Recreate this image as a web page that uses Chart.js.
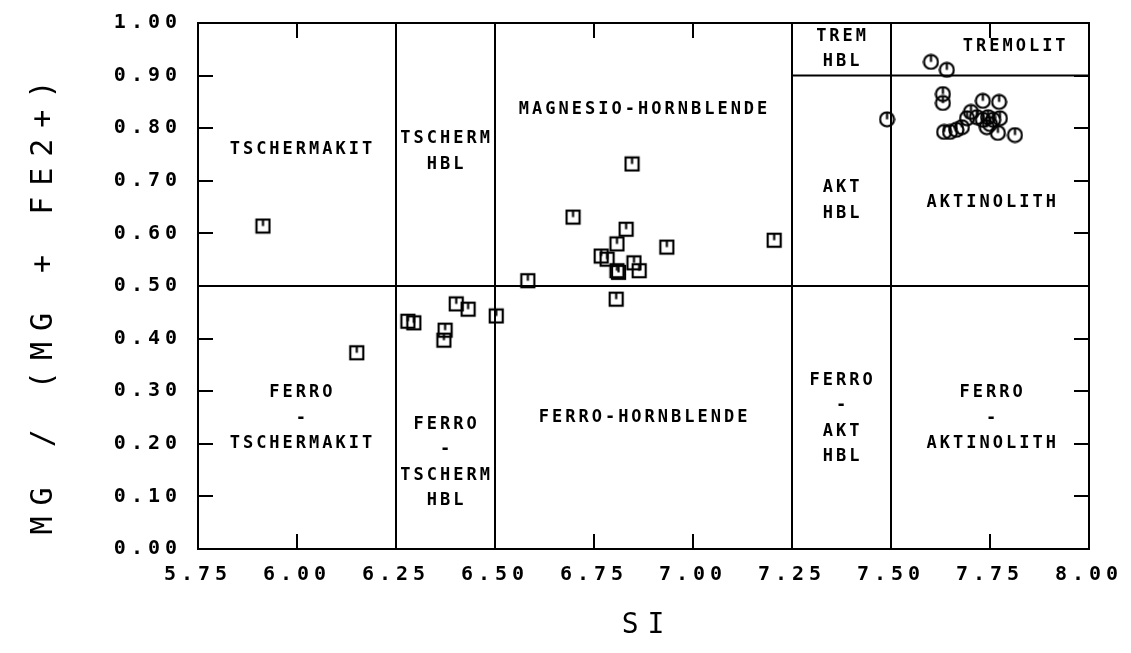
<!DOCTYPE html>
<html>
<head>
<meta charset="utf-8">
<script src="https://cdn.jsdelivr.net/npm/chart.js@4.4.1/dist/chart.umd.min.js"></script>
<style>
  html, body { margin: 0; padding: 0; background: #fff; }
  #wrap { width: 1131px; height: 653px; }
</style>
</head>
<body>
<div id="wrap"><canvas id="chart" width="1131" height="653"></canvas></div>
<script>
// Amphibole analyses (squares = hornblendes, circles = actinolite/tremolite)
const squareSi = [5.914, 6.151, 6.280, 6.295, 6.402, 6.432, 6.374, 6.371, 6.503, 6.583, 6.697, 6.846,
  6.831, 6.808, 6.934, 6.768, 6.783, 6.851, 6.808, 6.812, 6.864, 6.806, 7.205];
const squareMg = [0.614, 0.373, 0.433, 0.430, 0.466, 0.456, 0.416, 0.397, 0.443, 0.510, 0.631, 0.732,
  0.608, 0.580, 0.574, 0.557, 0.551, 0.544, 0.529, 0.526, 0.529, 0.475, 0.587];

const circleSi = [7.601, 7.641, 7.490, 7.631, 7.631, 7.732, 7.773, 7.634, 7.649, 7.679, 7.692,
  7.702, 7.717, 7.732, 7.745, 7.742, 7.758, 7.775, 7.770, 7.813, 7.665, 7.750];
const circleMg = [0.926, 0.911, 0.817, 0.865, 0.848, 0.852, 0.850, 0.793, 0.793, 0.802, 0.819,
  0.831, 0.821, 0.816, 0.821, 0.802, 0.816, 0.819, 0.791, 0.787, 0.797, 0.808];

// field boundaries
const verticalBounds = [6.25, 6.50, 7.25, 7.50];
const halfMg = 0.50;
const tremoliteMg = 0.90;
const tremoliteFrom = 7.25;

// axis ticks
const siTicks = [5.75, 6.00, 6.25, 6.50, 6.75, 7.00, 7.25, 7.50, 7.75, 8.00];
const mgTicks = [0.0, 0.1, 0.2, 0.3, 0.4, 0.5, 0.6, 0.7, 0.8, 0.9, 1.0];

// field names, anchored at (Si, Mg)
const fieldNames = [
  { si: 6.010, mg: 0.759, lines: ["TSCHERMAKIT"] },
  { si: 6.374, mg: 0.756, lines: ["TSCHERM", "HBL"] },
  { si: 6.874, mg: 0.835, lines: ["MAGNESIO-HORNBLENDE"] },
  { si: 7.374, mg: 0.950, lines: ["TREM", "HBL"] },
  { si: 7.811, mg: 0.956, lines: ["TREMOLIT"] },
  { si: 7.374, mg: 0.662, lines: ["AKT", "HBL"] },
  { si: 7.753, mg: 0.658, lines: ["AKTINOLITH"] },
  { si: 6.010, mg: 0.248, lines: ["FERRO", "-", "TSCHERMAKIT"] },
  { si: 6.374, mg: 0.164, lines: ["FERRO", "-", "TSCHERM", "HBL"] },
  { si: 6.874, mg: 0.249, lines: ["FERRO-HORNBLENDE"] },
  { si: 7.374, mg: 0.248, lines: ["FERRO", "-", "AKT", "HBL"] },
  { si: 7.753, mg: 0.248, lines: ["FERRO", "-", "AKTINOLITH"] },
];

const MONO = '"DejaVu Sans Mono", "Liberation Mono", monospace';

// plotter style markers: outline with a short stroke from the top to the middle
function makeMarker(kind) {
  const c = document.createElement("canvas");
  c.width = 17; c.height = 17;
  const g = c.getContext("2d");
  g.strokeStyle = "#000";
  g.lineWidth = 2.2;
  if (kind === "square") {
    g.strokeRect(2, 2, 13, 13);
  } else {
    g.beginPath();
    g.arc(8.5, 8.5, 7, 0, Math.PI * 2);
    g.stroke();
  }
  g.beginPath();
  g.moveTo(8.5, 2);
  g.lineTo(8.5, 8.5);
  g.stroke();
  return c;
}

function toPoints(xs, ys) {
  return xs.map((x, i) => ({ x, y: ys[i] }));
}

function boundaryDataset(points) {
  return {
    type: "scatter",
    data: points,
    showLine: true,
    borderColor: "#000",
    borderWidth: 2,
    pointRadius: 0,
    pointHoverRadius: 0,
    clip: false,
  };
}

const boundarySets = [
  ...verticalBounds.map(x => boundaryDataset([{ x, y: 0 }, { x, y: 1 }])),
  boundaryDataset([{ x: siTicks[0], y: halfMg }, { x: siTicks[siTicks.length - 1], y: halfMg }]),
  boundaryDataset([{ x: tremoliteFrom, y: tremoliteMg }, { x: siTicks[siTicks.length - 1], y: tremoliteMg }]),
];

// frame, inward ticks, field names and axis titles
const plotterDecor = {
  id: "plotterDecor",
  beforeDraw(chart) {
    chart.ctx.letterSpacing = "5px";
  },
  afterDraw(chart) {
    const { ctx, chartArea: a, scales: { x, y } } = chart;
    const tl = 15;
    ctx.save();
    ctx.strokeStyle = "#000";
    ctx.lineWidth = 2;
    ctx.strokeRect(a.left, a.top, a.right - a.left, a.bottom - a.top);

    ctx.beginPath();
    siTicks.forEach(v => {
      const px = Math.round(x.getPixelForValue(v));
      ctx.moveTo(px, a.bottom); ctx.lineTo(px, a.bottom - tl);
      ctx.moveTo(px, a.top); ctx.lineTo(px, a.top + tl);
    });
    mgTicks.forEach(v => {
      const py = Math.round(y.getPixelForValue(v));
      ctx.moveTo(a.left, py); ctx.lineTo(a.left + tl, py);
      ctx.moveTo(a.right, py); ctx.lineTo(a.right - tl, py);
    });
    ctx.stroke();

    // field names
    ctx.fillStyle = "#000";
    ctx.font = "bold 17px " + MONO;
    ctx.letterSpacing = "3px";
    ctx.textAlign = "center";
    ctx.textBaseline = "middle";
    const lh = 25.5;
    fieldNames.forEach(f => {
      const cx = x.getPixelForValue(f.si) + 1.5;
      const cy = y.getPixelForValue(f.mg);
      const top = cy - (f.lines.length - 1) * lh / 2;
      f.lines.forEach((t, i) => ctx.fillText(t, cx, top + i * lh));
    });

    // axis titles
    ctx.font = "28px " + MONO;
    ctx.letterSpacing = "9px";
    ctx.fillText("SI", (a.left + a.right) / 2 + 4, 626);

    ctx.translate(44, 307);
    ctx.rotate(-Math.PI / 2);
    ctx.font = "30px " + MONO;
    ctx.letterSpacing = "11px";
    ctx.fillText("MG / (MG + FE2+)", 5, 0);
    ctx.restore();
  }
};

new Chart(document.getElementById("chart"), {
  data: {
    datasets: [
      ...boundarySets,
      {
        type: "scatter",
        label: "Hornblende",
        data: toPoints(squareSi, squareMg),
        pointStyle: makeMarker("square"),
        clip: false,
      },
      {
        type: "scatter",
        label: "Aktinolith",
        data: toPoints(circleSi, circleMg),
        pointStyle: makeMarker("circle"),
        clip: false,
      },
    ]
  },
  options: {
    responsive: false,
    animation: false,
    events: [],
    layout: { padding: { left: 0, right: 42, top: 23, bottom: 0 } },
    plugins: { legend: { display: false }, tooltip: { enabled: false } },
    scales: {
      x: {
        type: "linear",
        min: siTicks[0],
        max: siTicks[siTicks.length - 1],
        afterBuildTicks: s => { s.ticks = siTicks.map(v => ({ value: v })); },
        afterFit: s => { s.height = 104; },
        grid: { display: false },
        border: { display: false },
        ticks: {
          autoSkip: false,
          maxRotation: 0,
          padding: 6,
          color: "#000",
          font: { family: MONO, size: 20, weight: "bold" },
          callback: v => v.toFixed(2),
        },
      },
      y: {
        type: "linear",
        min: mgTicks[0],
        max: mgTicks[mgTicks.length - 1],
        afterBuildTicks: s => { s.ticks = mgTicks.map(v => ({ value: v })); },
        afterFit: s => { s.width = 198; },
        grid: { display: false },
        border: { display: false },
        ticks: {
          padding: 8,
          color: "#000",
          font: { family: MONO, size: 20, weight: "bold" },
          callback: v => v.toFixed(2),
        },
      },
    },
  },
  plugins: [plotterDecor],
});
</script>
</body>
</html>
